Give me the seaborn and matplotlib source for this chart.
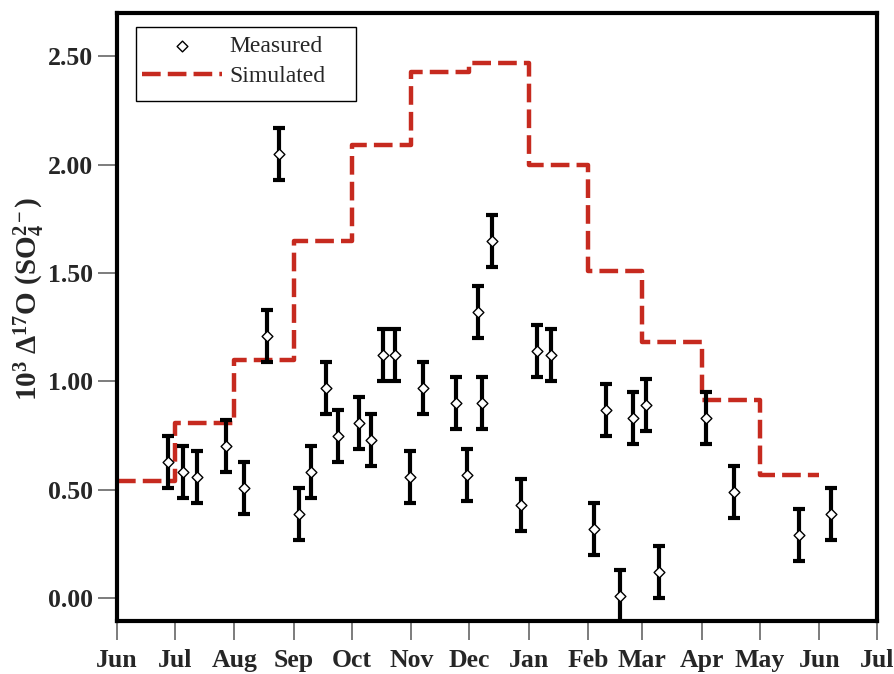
import matplotlib
matplotlib.use('Agg')
import matplotlib.pyplot as plt
from matplotlib.patches import Rectangle
import seaborn as sns
import pandas as pd

# days counted from 1 June
month_days = [0, 30, 61, 92, 122, 153, 183, 214, 245, 273, 304, 334, 365, 395]
month_labels = ['Jun', 'Jul', 'Aug', 'Sep', 'Oct', 'Nov', 'Dec',
                'Jan', 'Feb', 'Mar', 'Apr', 'May', 'Jun', 'Jul']

measured_day = [26.7, 34.1, 41.7, 56.6, 66.1, 77.9, 84.4, 94.8, 100.7, 108.7,
                114.6, 125.6, 131.9, 138.4, 144.6, 152.3, 159.2, 176.2, 181.8,
                187.5, 189.6, 194.9, 210.0, 218.1, 225.4, 248.1, 254.3, 261.4,
                268.0, 274.9, 281.7, 305.9, 320.8, 354.6, 371.1]
measured_value = [0.63, 0.58, 0.56, 0.70, 0.51, 1.21, 2.05, 0.39, 0.58, 0.97,
                  0.75, 0.81, 0.73, 1.12, 1.12, 0.56, 0.97, 0.90, 0.57,
                  1.32, 0.90, 1.65, 0.43, 1.14, 1.12, 0.32, 0.87, 0.01,
                  0.83, 0.89, 0.12, 0.83, 0.49, 0.29, 0.39]
measured_err = [0.12, 0.12, 0.12, 0.12, 0.12, 0.12, 0.12, 0.12, 0.12, 0.12,
                0.12, 0.12, 0.12, 0.12, 0.12, 0.12, 0.12, 0.12, 0.12,
                0.12, 0.12, 0.12, 0.12, 0.12, 0.12, 0.12, 0.12, 0.12,
                0.12, 0.12, 0.12, 0.12, 0.12, 0.12, 0.12]

sim_day = [0, 30, 61, 92, 122, 153, 183, 214, 245, 273, 304, 334, 365]
sim_value = [0.54, 0.81, 1.10, 1.65, 2.09, 2.43, 2.47, 2.00, 1.51, 1.18, 0.915, 0.57, 0.57]

sns.set_style('ticks')
plt.rcParams['font.family'] = ['Liberation Serif', 'DejaVu Serif']
plt.rcParams['mathtext.fontset'] = 'custom'
plt.rcParams['mathtext.rm'] = 'Liberation Serif'
plt.rcParams['mathtext.it'] = 'Liberation Serif:italic'
plt.rcParams['mathtext.bf'] = 'Liberation Serif:bold'

fig = plt.figure(figsize=(8.95, 6.74), dpi=100)
ax = fig.add_axes([0.1307, 0.0786, 0.8493, 0.9021])

sim = pd.DataFrame({'day': sim_day, 'value': sim_value})
meas = pd.DataFrame({'day': measured_day, 'value': measured_value, 'err': measured_err})

sns.lineplot(data=sim, x='day', y='value', ax=ax, drawstyle='steps-post',
             color='#c62a1f', linewidth=3.2, dashes=False, sort=False,
             label='Simulated', zorder=2)
ax.lines[-1].set_dashes([4.2, 1.6])

ax.errorbar(meas['day'], meas['value'], yerr=meas['err'], fmt='none',
            ecolor='black', elinewidth=3, capsize=4, capthick=3, zorder=3)
sns.scatterplot(data=meas, x='day', y='value', ax=ax, marker='D', s=30,
                facecolor='white', edgecolor='black', linewidth=1.0,
                label='Measured', zorder=4)

ax.set_xlim(0, 395)
ax.set_ylim(-0.106, 2.70)
ax.set_xticks(month_days)
ax.set_xticklabels(month_labels)
ax.set_yticks([0.0, 0.5, 1.0, 1.5, 2.0, 2.5])
ax.set_yticklabels(['0.00', '0.50', '1.00', '1.50', '2.00', '2.50'])
for lab in ax.get_xticklabels() + ax.get_yticklabels():
    lab.set_fontweight('bold')
    lab.set_fontsize(18.5)
ax.tick_params(axis='both', length=14, width=1.2, color='#666666')
ax.tick_params(axis='x', pad=6)
ax.tick_params(axis='y', pad=3)
ax.set_xlabel('')
ax.set_ylabel(r'$\mathbf{10^3\ \Delta^{17}O\ (SO_4^{2-})}$', fontsize=21)
ax.yaxis.set_label_coords(-0.092, 0.53)

for sp in ax.spines.values():
    sp.set_visible(True)
    sp.set_linewidth(3)
    sp.set_color('black')

# legend box is a bit roomier than matplotlib's default frame
ax.add_patch(Rectangle((0.025, 0.855), 0.29, 0.122, transform=ax.transAxes,
                       facecolor='white', edgecolor='black', linewidth=1, zorder=5))
handles, labels = ax.get_legend_handles_labels()
order = [labels.index('Measured'), labels.index('Simulated')]
leg = ax.legend([handles[i] for i in order], [labels[i] for i in order],
                loc='upper left', bbox_to_anchor=(0.025, 0.972), fontsize=17,
                frameon=False, handlelength=3.4, handletextpad=0.3,
                borderpad=0.25, borderaxespad=0, labelspacing=0.35)
leg.set_zorder(6)

fig.savefig('out.png', dpi=100)
